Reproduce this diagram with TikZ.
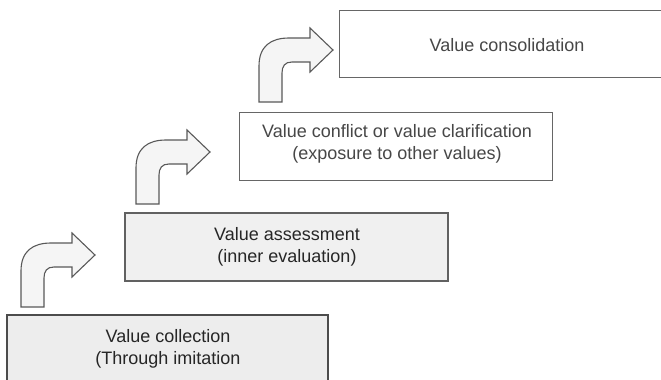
\documentclass[tikz,border=0pt]{standalone}
\usepackage{fontspec}
\setmainfont{Liberation Sans}
\begin{document}
\begin{tikzpicture}[x=1pt,y=-1pt,
  stage/.style={draw=black!60,line width=1pt,fill=white},
  stagedark/.style={draw=black!70,line width=1.6pt,fill=black!7},
  stagemid/.style={draw=black!62,line width=1.4pt,fill=black!6},
  label/.style={font=\fontsize{18}{22}\selectfont,text=black!72,align=center,inner sep=0pt},
  labeldark/.style={label,text=black!85},
  bent/.style={draw=black!65,line width=1.1pt,fill=black!4,line join=miter},
  pics/bentarrow/.style={code={
    \path[bent] (0,0) -- (0,-36) .. controls (0,-56) and (12,-64) .. (30,-64)
      -- (51,-64) -- (51,-74) -- (74,-52) -- (51,-30) -- (51,-40) -- (33,-40)
      .. controls (26,-40) and (23,-36) .. (23,-29) -- (23,0) -- cycle;
  }}]
\useasboundingbox (0,0) rectangle (661,380);
% boxes
\path[stagedark] (7,315) rectangle (328,395);
\path[stagemid] (125,213) rectangle (448,281);
\path[stage] (239,112) rectangle (552,180);
\path[stage] (339,10) rectangle (670,77);
% labels
\node[labeldark] (t1) at (168,349) {Value collection\\(Through imitation};
\node[labeldark] (t2) at (287,247) {Value assessment\\(inner evaluation)};
\node[label] (t3) at (397,144) {Value conflict or value clarification\\(exposure to other values)};
\node[label] (t4) at (507,45) {Value consolidation};
% bent arrows
\pic at (21,307) {bentarrow};
\pic at (136,204) {bentarrow};
\pic at (259,102) {bentarrow};
\end{tikzpicture}
\end{document}
